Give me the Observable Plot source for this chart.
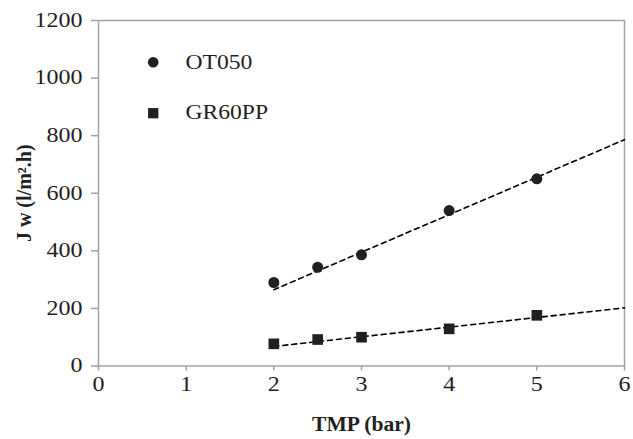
<!DOCTYPE html>
<html>
<head>
<meta charset="utf-8">
<script src="https://cdn.jsdelivr.net/npm/d3@7"></script>
<script src="https://cdn.jsdelivr.net/npm/@observablehq/plot@0.6"></script>
<style>
  html, body { margin: 0; padding: 0; background: #fff; }
  #chart svg { display: block; }
</style>
</head>
<body>
<div id="chart"></div>
<script>
// ---- data ----
const tmp = [2, 2.5, 3, 4, 5];
const ot050 = [290, 343, 386, 540, 650];
const gr60pp = [77, 92, 100, 129, 176];
const trendX = [2, 6];
const ot050Trend = [265, 786];
const gr60ppTrend = [68, 202];
const xTicks = [0, 1, 2, 3, 4, 5, 6];
const yTicks = [0, 200, 400, 600, 800, 1000, 1200];
const seriesNames = ["OT050", "GR60PP"];
const xTitle = "TMP (bar)";
const yTitle = "J w (l/m\u00B2.h)";

const ptsOT = tmp.map((x, i) => ({x, y: ot050[i]}));
const ptsGR = tmp.map((x, i) => ({x, y: gr60pp[i]}));
const trOT = trendX.map((x, i) => ({x, y: ot050Trend[i]}));
const trGR = trendX.map((x, i) => ({x, y: gr60ppTrend[i]}));

const axisColor = "#a3a3a3";
const ink = "#231f20";
const serif = "'Liberation Serif', 'Times New Roman', serif";

const chart = Plot.plot({
  width: 633,
  height: 439,
  marginLeft: 98,
  marginRight: 9,
  marginTop: 20,
  marginBottom: 73.5,
  style: {fontFamily: serif, fontSize: "20px", color: ink, background: "#fff"},
  x: {domain: [0, 6]},
  y: {domain: [0, 1200]},
  marks: [
    Plot.frame({stroke: axisColor, strokeWidth: 1.5}),
    Plot.axisY({ticks: yTicks, tickFormat: d => String(d), tickSize: 7, tickPadding: 9, stroke: axisColor, strokeWidth: 1.5, label: null, fill: ink, fontSize: 20}),
    Plot.axisX({ticks: xTicks, tickFormat: d => String(d), tickSize: 5, tickPadding: 6, stroke: axisColor, strokeWidth: 1.5, label: null, fill: ink, fontSize: 20}),
    Plot.line(trOT, {x: "x", y: "y", stroke: "#000", strokeWidth: 1.6, strokeDasharray: "5,4"}),
    Plot.line(trGR, {x: "x", y: "y", stroke: "#000", strokeWidth: 1.6, strokeDasharray: "5,4"}),
    Plot.dot(ptsOT, {x: "x", y: "y", r: 5.5, fill: ink, stroke: "none"}),
    Plot.dot(ptsGR, {x: "x", y: "y", r: 6, symbol: "square", fill: ink, stroke: "none"}),
    // legend inside the frame
    Plot.dot([seriesNames[0]], {frameAnchor: "top-left", dx: 54.7, dy: 41.7, r: 5.3, fill: ink, stroke: "none"}),
    Plot.dot([seriesNames[1]], {frameAnchor: "top-left", dx: 54.7, dy: 92.7, r: 5.8, symbol: "square", fill: ink, stroke: "none"}),
    Plot.text([seriesNames[0]], {text: d => d, frameAnchor: "top-left", dx: 87, dy: 42, textAnchor: "start", lineAnchor: "middle", fontSize: 20, fill: ink}),
    Plot.text([seriesNames[1]], {text: d => d, frameAnchor: "top-left", dx: 87, dy: 92, textAnchor: "start", lineAnchor: "middle", fontSize: 20, fill: ink}),
    // axis titles
    Plot.text([xTitle], {text: d => d, frameAnchor: "bottom", dy: 59, textAnchor: "middle", lineAnchor: "middle", fontSize: 20, fontWeight: "bold", fill: ink}),
    Plot.text([yTitle], {text: d => d, frameAnchor: "left", dx: -74, rotate: -90, textAnchor: "middle", lineAnchor: "middle", fontSize: 20, fontWeight: "bold", fill: ink})
  ]
});

document.getElementById("chart").appendChild(chart);

// the reference's type is wider than usual: stretch texts horizontally about their anchors
function stretchFor(t) {
  const label = t.parentNode.getAttribute("aria-label") || "";
  const s = t.textContent;
  if (label.startsWith("y-axis tick") || label.startsWith("x-axis tick")) return 1.2;
  if (seriesNames.includes(s)) return 1.18;
  if (s === xTitle) return 1.08;
  return null;
}
chart.querySelectorAll("text").forEach(t => {
  const sx = stretchFor(t);
  if (!sx) return;
  const b = t.getBBox();
  const anchor = getComputedStyle(t).textAnchor || "start";
  const ax = anchor === "end" ? b.x + b.width : anchor === "middle" ? b.x + b.width / 2 : b.x;
  const tr = t.getAttribute("transform") || "";
  t.setAttribute("transform", `${tr} translate(${ax},0) scale(${sx},1) translate(${-ax},0)`.trim());
});
</script>
</body>
</html>
